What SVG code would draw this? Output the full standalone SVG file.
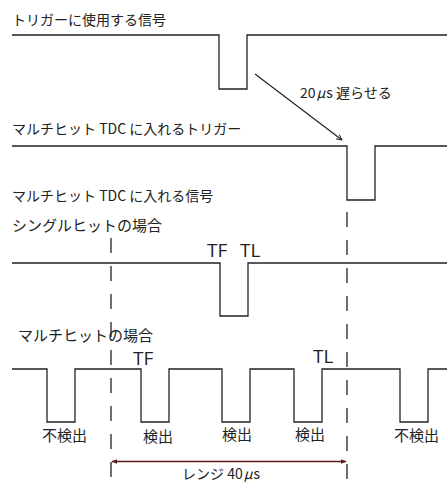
<svg xmlns="http://www.w3.org/2000/svg" width="447" height="484" viewBox="0 0 447 484">
<style>
.sig{fill:none;stroke:#222;stroke-width:1.3}
.dash{fill:none;stroke:#222;stroke-width:1.3;stroke-dasharray:15 13}
.jp{font-family:"Noto Sans CJK JP","Noto Sans",sans-serif;fill:#222}
.t14{font-size:14px}
.t15{font-size:15px}
.lat{font-family:"Open Sans","Noto Sans",sans-serif;font-size:19px;fill:#222}
</style>
<defs>
<marker id="open" viewBox="0 0 10 10" refX="9" refY="5" markerWidth="7" markerHeight="7" orient="auto" markerUnits="userSpaceOnUse">
<path d="M1,1 L9,5 L1,9" fill="none" stroke="#222" stroke-width="1.3"/>
</marker>
<marker id="rng" viewBox="0 0 10 10" refX="9" refY="5" markerWidth="6" markerHeight="6" orient="auto-start-reverse" markerUnits="userSpaceOnUse">
<path d="M0,1 L10,5 L0,9 Z" fill="#5b1b1b"/>
</marker>
</defs>

<g id="trigger-signal">
<text class="jp t14" x="12" y="25">トリガーに使用する信号</text>
<path class="sig" d="M12,35 H219 V89 H247 V35 H447"/>
</g>

<g id="tdc-trigger">
<text class="jp t14" x="12" y="134">マルチヒット TDC に入れるトリガー</text>
<path class="sig" d="M12,146 H347 V200 H375 V146 H447"/>
</g>

<g id="tdc-signal-label">
<text class="jp t14" x="12" y="201">マルチヒット TDC に入れる信号</text>
</g>

<g id="single-hit">
<text class="jp t15" x="12" y="231">シングルヒットの場合</text>
<path class="sig" d="M12,263 H220 V316 H248 V263 H447"/>
<text class="lat" x="207" y="257">TF</text>
<text class="lat" x="240" y="257">TL</text>
</g>

<g id="multi-hit">
<text class="jp t15" x="18" y="341">マルチヒットの場合</text>
<path class="sig" d="M12,369 H47 V422 H75 V369 H141 V422 H169 V369 H222 V422 H250 V369 H294 V422 H322 V369 H400 V422 H428 V369 H447"/>
<text class="lat" x="133" y="365">TF</text>
<text class="lat" x="313" y="363">TL</text>
<text class="jp t15" x="42" y="441">不検出</text>
<text class="jp t15" x="143" y="442">検出</text>
<text class="jp t15" x="222" y="440">検出</text>
<text class="jp t15" x="295" y="440">検出</text>
<text class="jp t15" x="394" y="441">不検出</text>
</g>

<g id="connectors">
<line class="dash" x1="111" y1="238" x2="111" y2="484"/>
<line class="dash" x1="347" y1="212" x2="347" y2="484"/>
<line x1="255" y1="74" x2="342" y2="140" stroke="#222" stroke-width="1.2" marker-end="url(#open)"/>
<line x1="112" y1="461.5" x2="346" y2="461.5" stroke="#5b1b1b" stroke-width="1.4" marker-start="url(#rng)" marker-end="url(#rng)"/>
<text class="jp t14" x="300" y="98">20<tspan dx="1" font-style="italic">μ</tspan><tspan dx="1">s</tspan> 遅らせる</text>
<text class="jp t14" x="182" y="479">レンジ 40<tspan dx="1" font-style="italic">μ</tspan><tspan dx="1">s</tspan></text>
</g>
</svg>
